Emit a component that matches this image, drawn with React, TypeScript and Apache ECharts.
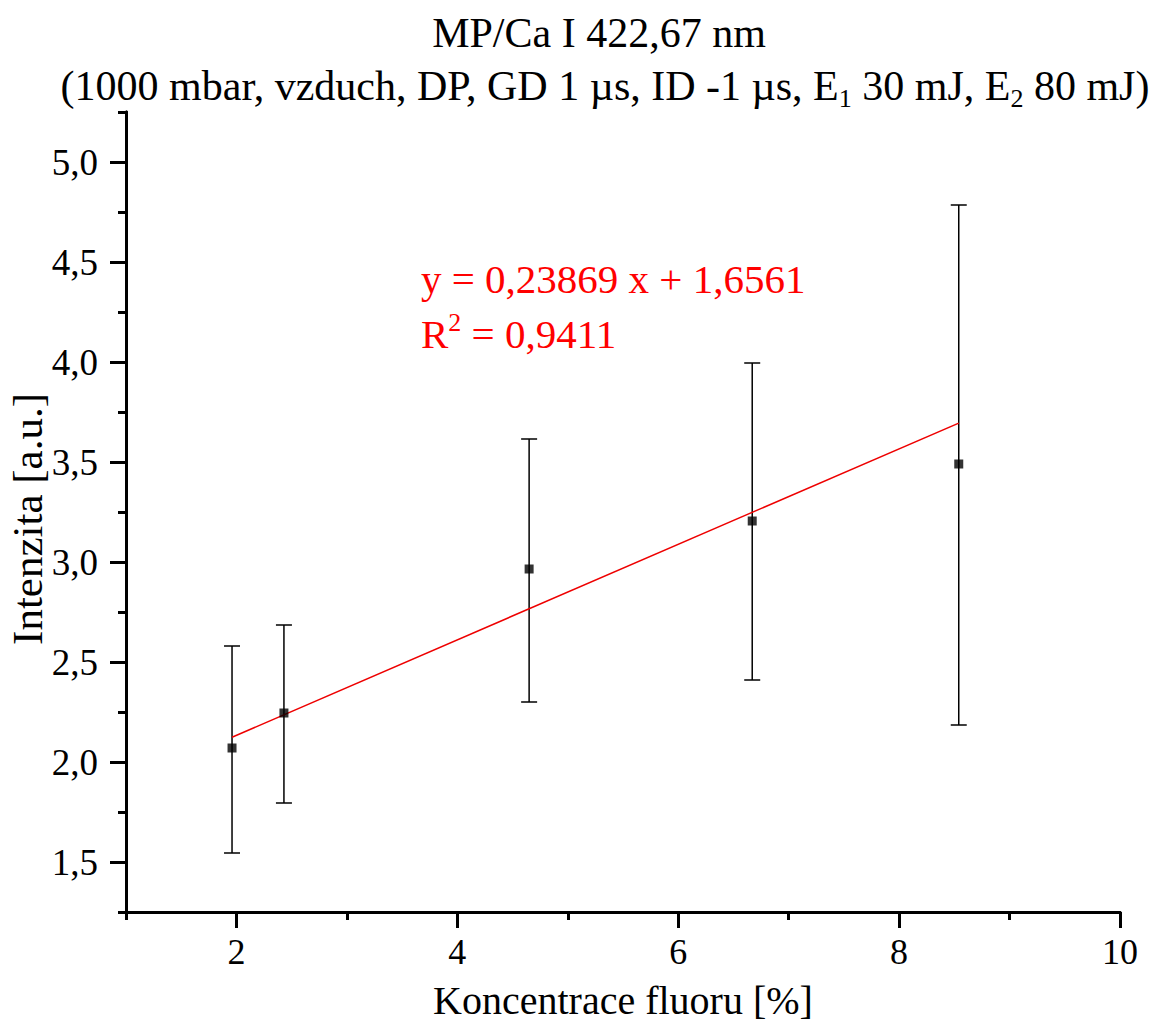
import React, { useEffect, useRef } from "react";
import * as echarts from "echarts";

// ---- data ----
const xValues = [1.96, 2.43, 4.65, 6.67, 8.54];
const yValues = [2.07, 2.245, 2.965, 3.205, 3.49];
const errLow = [1.545, 1.795, 2.3, 2.41, 2.185];
const errHigh = [2.58, 2.685, 3.615, 3.995, 4.785];
const fitSlope = 0.23869;
const fitIntercept = 1.6561;
// tick positions (every other one carries a label and a long tick)
const xTickSteps = ["1", "2", "3", "4", "5", "6", "7", "8", "9", "10"];
const yTickSteps = [
  "1,25", "1,5", "1,75", "2,0", "2,25", "2,5", "2,75", "3,0", "3,25",
  "3,5", "3,75", "4,0", "4,25", "4,5", "4,75", "5,0", "5,25",
];
const titleLine1 = "MP/Ca I 422,67 nm";
const titleLine2 = "(1000 mbar, vzduch, DP, GD 1 µs, ID -1 µs, E{sub|1} 30 mJ, E{sub|2} 80 mJ)";
const fitText1 = "y = 0,23869 x + 1,6561";
const fitText2 = "R{sup|2} = 0,9411";

const FONT = "'Liberation Serif', 'Times New Roman', serif";

export default function App() {
  const ref = useRef<HTMLDivElement>(null);
  useEffect(() => {
    if (!ref.current) return;
    const chart = echarts.init(ref.current, undefined, { renderer: "svg" });
    const fitX0 = Math.min(...xValues);
    const fitX1 = Math.max(...xValues);
    const fitData = [
      [fitX0, fitSlope * fitX0 + fitIntercept],
      [fitX1, fitSlope * fitX1 + fitIntercept],
    ];
    const axisLine = { show: true, lineStyle: { color: "#000", width: 3 } };
    const everyOther = (i: number) => i % 2 === 1;
    chart.setOption({
      animation: false,
      backgroundColor: "#fff",
      grid: { left: 126, right: 33, top: 112, bottom: 113, containLabel: false, outerBoundsMode: "none" },
      xAxis: [
        {
          type: "value",
          min: 1,
          max: 10,
          interval: 1,
          position: "bottom",
          splitLine: { show: false },
          axisLine,
          axisTick: { show: true, length: 8, lineStyle: { color: "#000", width: 3 } },
          axisLabel: { show: false },
        },
        {
          type: "category",
          data: xTickSteps,
          boundaryGap: false,
          position: "bottom",
          splitLine: { show: false },
          axisLine,
          axisTick: { show: true, interval: everyOther, length: 16, lineStyle: { color: "#000", width: 3 } },
          axisLabel: {
            show: true,
            interval: everyOther,
            color: "#000",
            fontFamily: FONT,
            fontSize: 36,
            margin: 22,
          },
          name: "Koncentrace fluoru [%]",
          nameLocation: "middle",
          nameGap: 68,
          nameMoveOverlap: false,
          nameTextStyle: { color: "#000", fontFamily: FONT, fontSize: 40 },
        },
      ],
      yAxis: [
        {
          type: "value",
          min: 1.25,
          max: 5.25,
          interval: 0.25,
          position: "left",
          splitLine: { show: false },
          axisLine,
          axisTick: { show: true, length: 8, lineStyle: { color: "#000", width: 3 } },
          axisLabel: { show: false },
        },
        {
          type: "category",
          data: yTickSteps,
          boundaryGap: false,
          position: "left",
          splitLine: { show: false },
          axisLine,
          axisTick: { show: true, interval: everyOther, length: 16, lineStyle: { color: "#000", width: 3 } },
          axisLabel: {
            show: true,
            interval: everyOther,
            color: "#000",
            fontFamily: FONT,
            fontSize: 37,
            margin: 28,
          },
          name: "Intenzita [a.u.]",
          nameLocation: "middle",
          nameRotate: 90,
          nameGap: 77,
          nameMoveOverlap: false,
          nameTextStyle: { color: "#000", fontFamily: FONT, fontSize: 43, lineHeight: 44, padding: [0, 14, 0, 0] },
        },
      ],
      graphic: [
        {
          type: "text",
          x: 599,
          y: 33,
          style: { text: titleLine1, fill: "#000", fontFamily: FONT, fontSize: 42, align: "center", verticalAlign: "middle" },
        },
        {
          type: "text",
          x: 605,
          y: 86,
          style: {
            text: titleLine2,
            fill: "#000",
            fontFamily: FONT,
            fontSize: 42,
            lineHeight: 50,
            align: "center",
            verticalAlign: "middle",
            rich: { sub: { fontFamily: FONT, fontSize: 26, lineHeight: 24, verticalAlign: "bottom", fill: "#000" } },
          },
        },
        {
          type: "text",
          x: 421,
          y: 279,
          style: { text: fitText1, fill: "#f00", fontFamily: FONT, fontSize: 41, align: "left", verticalAlign: "middle" },
        },
        {
          type: "text",
          x: 421,
          y: 334,
          style: {
            text: fitText2,
            fill: "#f00",
            fontFamily: FONT,
            fontSize: 41,
            lineHeight: 50,
            align: "left",
            verticalAlign: "middle",
            rich: { sup: { fontFamily: FONT, fontSize: 26, lineHeight: 24, verticalAlign: "top", fill: "#f00" } },
          },
        },
      ],
      series: [
        {
          type: "custom",
          xAxisIndex: 0,
          yAxisIndex: 0,
          data: xValues.map((x, i) => [x, errLow[i], errHigh[i]]),
          encode: { x: 0, y: [1, 2] },
          z: 2,
          renderItem: (params: any, api: any) => {
            const x = api.value(0);
            const top = api.coord([x, api.value(2)]);
            const bot = api.coord([x, api.value(1)]);
            const hw = 8;
            const st = { stroke: "#000", lineWidth: 1.5 };
            return {
              type: "group",
              children: [
                { type: "line", shape: { x1: top[0], y1: top[1], x2: bot[0], y2: bot[1] }, style: st },
                { type: "line", shape: { x1: top[0] - hw, y1: top[1], x2: top[0] + hw, y2: top[1] }, style: st },
                { type: "line", shape: { x1: bot[0] - hw, y1: bot[1], x2: bot[0] + hw, y2: bot[1] }, style: st },
              ],
            };
          },
        },
        {
          type: "line",
          xAxisIndex: 0,
          yAxisIndex: 0,
          data: fitData,
          showSymbol: false,
          symbol: "none",
          z: 3,
          lineStyle: { color: "#e00", width: 1.5 },
        },
        {
          type: "scatter",
          xAxisIndex: 0,
          yAxisIndex: 0,
          data: xValues.map((x, i) => [x, yValues[i]]),
          symbol: "rect",
          symbolSize: 9,
          z: 4,
          itemStyle: { color: "#000" },
        },
      ],
    });
    return () => chart.dispose();
  }, []);
  return (
    <div
      ref={ref}
      style={{ position: "fixed", left: 0, top: 0, width: 1153, height: 1025, background: "#fff" }}
    />
  );
}
